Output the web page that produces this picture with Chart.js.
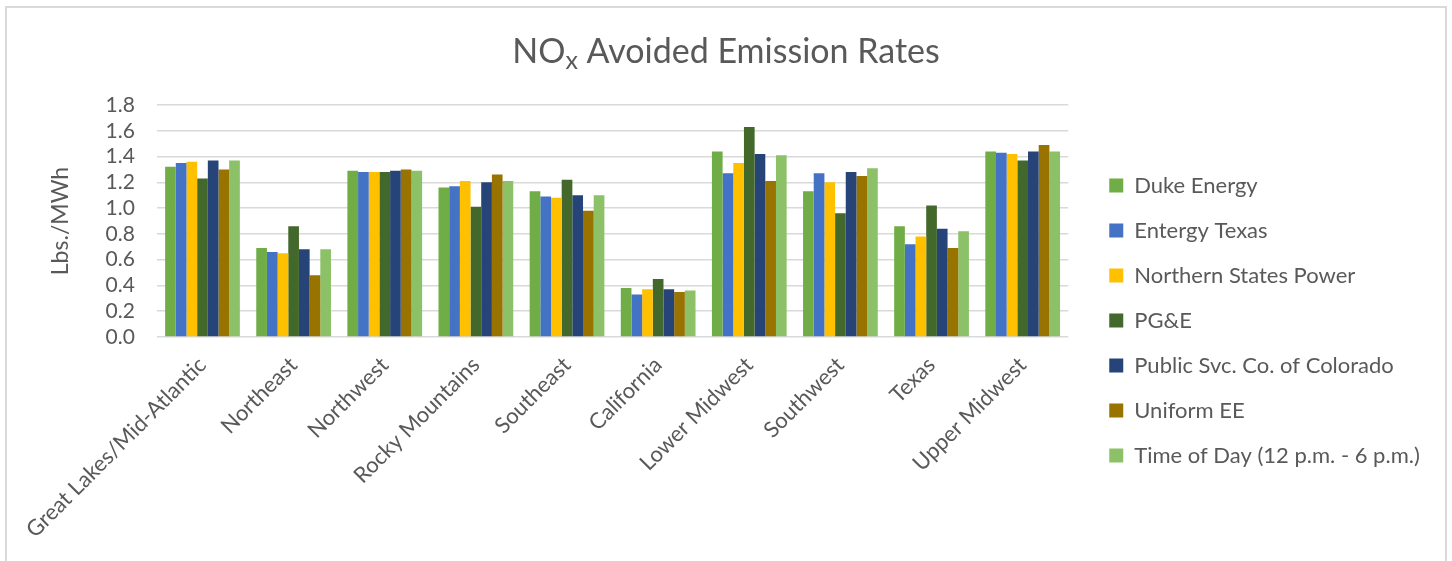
<!DOCTYPE html>
<html>
<head>
<meta charset="utf-8">
<script src="https://cdn.jsdelivr.net/npm/chart.js@4.4.1/dist/chart.umd.min.js"></script>
<style>
  html, body { margin: 0; padding: 0; background: #ffffff; overflow: hidden; }
  #wrap { position: relative; width: 1452px; height: 561px; }
  #frame {
    position: absolute; left: 5px; top: 6px; width: 1438px; height: 620px;
    border: 2px solid #d9d9d9; pointer-events: none;
  }
</style>
</head>
<body>
<div id="wrap">
  <canvas id="chart" width="1452" height="561"></canvas>
  <div id="frame"></div>
</div>
<script>
// Regions along the x axis
const regions = [
  'Great Lakes/Mid-Atlantic', 'Northeast', 'Northwest', 'Rocky Mountains', 'Southeast',
  'California', 'Lower Midwest', 'Southwest', 'Texas', 'Upper Midwest'
];

// Avoided NOx emission rates (lbs./MWh) per program profile
const dukeEnergy      = [1.32, 0.69, 1.29, 1.16, 1.13, 0.38, 1.44, 1.13, 0.86, 1.44];
const entergyTexas    = [1.35, 0.66, 1.28, 1.17, 1.09, 0.33, 1.27, 1.27, 0.72, 1.43];
const northernStates  = [1.36, 0.65, 1.28, 1.21, 1.08, 0.37, 1.35, 1.20, 0.78, 1.42];
const pgAndE          = [1.23, 0.86, 1.28, 1.01, 1.22, 0.45, 1.63, 0.96, 1.02, 1.37];
const publicSvcCo     = [1.37, 0.68, 1.29, 1.20, 1.10, 0.37, 1.42, 1.28, 0.84, 1.44];
const uniformEE       = [1.30, 0.48, 1.30, 1.26, 0.98, 0.35, 1.21, 1.25, 0.69, 1.49];
const timeOfDay       = [1.37, 0.68, 1.29, 1.21, 1.10, 0.36, 1.41, 1.31, 0.82, 1.44];

const seriesNames = [
  'Duke Energy', 'Entergy Texas', 'Northern States Power', 'PG&E',
  'Public Svc. Co. of Colorado', 'Uniform EE', 'Time of Day (12 p.m. - 6 p.m.)'
];
const seriesValues = [dukeEnergy, entergyTexas, northernStates, pgAndE, publicSvcCo, uniformEE, timeOfDay];
const seriesColors = ['#70AD47', '#4472C4', '#FFC000', '#43682B', '#264478', '#997300', '#8CC168'];

// Y axis ticks
const yTicks = [0.0, 0.2, 0.4, 0.6, 0.8, 1.0, 1.2, 1.4, 1.6, 1.8];

const TEXT = '#595959';
const FONT = 'Lato';

// Title with a subscript "x" in NOx
const subscriptTitle = {
  id: 'subscriptTitle',
  afterDraw(chart) {
    const ctx = chart.ctx;
    const big = '34px ' + FONT;
    const small = '25px ' + FONT;
    const parts = [
      { t: 'NO', f: big, dy: 0 },
      { t: 'x', f: small, dy: 6 },
      { t: ' Avoided Emission Rates', f: big, dy: 0 }
    ];
    ctx.save();
    let total = 0;
    parts.forEach(p => { ctx.font = p.f; p.w = ctx.measureText(p.t).width; total += p.w; });
    let x = chart.width / 2 - total / 2;
    const baseY = 63;
    ctx.fillStyle = TEXT;
    ctx.textBaseline = 'alphabetic';
    ctx.textAlign = 'left';
    parts.forEach(p => { ctx.font = p.f; ctx.fillText(p.t, x, baseY + p.dy); x += p.w; });
    ctx.restore();
  }
};

// Leaves a little air between the plot and the legend column
const legendNudge = {
  id: 'legendNudge',
  afterUpdate(chart) {
    const lg = chart.legend;
    const dx = 18, dy = -7;
    lg.left += dx; lg.right += dx;
    lg.top += dy; lg.bottom += dy;
  }
};

new Chart(document.getElementById('chart'), {
  type: 'bar',
  data: {
    labels: regions,
    datasets: seriesNames.map((name, i) => ({
      label: name,
      data: seriesValues[i],
      backgroundColor: seriesColors[i],
      borderWidth: 0,
      categoryPercentage: 0.82,
      barPercentage: 1.0
    }))
  },
  options: {
    responsive: false,
    animation: false,
    devicePixelRatio: 1,
    layout: { padding: { left: 40, right: 41, top: 105, bottom: 11 } },
    plugins: {
      title: { display: false },
      tooltip: { enabled: false },
      legend: {
        position: 'right',
        labels: {
          color: TEXT,
          font: { family: FONT, size: 22 },
          boxWidth: 14,
          boxHeight: 14,
          padding: 23
        }
      }
    },
    scales: {
      x: {
        grid: { display: false },
        border: { display: false },
        afterFit(scale) { scale.paddingLeft = 0; scale.paddingRight = 0; },
        ticks: {
          color: TEXT,
          font: { family: FONT, size: 22 },
          minRotation: 45,
          maxRotation: 45,
          autoSkip: false,
          padding: 7
        }
      },
      y: {
        min: 0,
        max: 1.8,
        afterBuildTicks(scale) { scale.ticks = yTicks.map(v => ({ value: v })); },
        grid: { color: '#d9d9d9', lineWidth: 1.5, drawTicks: false },
        border: { display: false },
        ticks: {
          color: TEXT,
          font: { family: FONT, size: 21 },
          padding: 22,
          autoSkip: false,
          callback: v => Number(v).toFixed(1)
        },
        title: {
          display: true,
          text: 'Lbs./MWh',
          color: TEXT,
          font: { family: FONT, size: 23 },
          padding: { top: 7, bottom: 9 }
        }
      }
    }
  },
  plugins: [subscriptTitle, legendNudge]
});
</script>
</body>
</html>
